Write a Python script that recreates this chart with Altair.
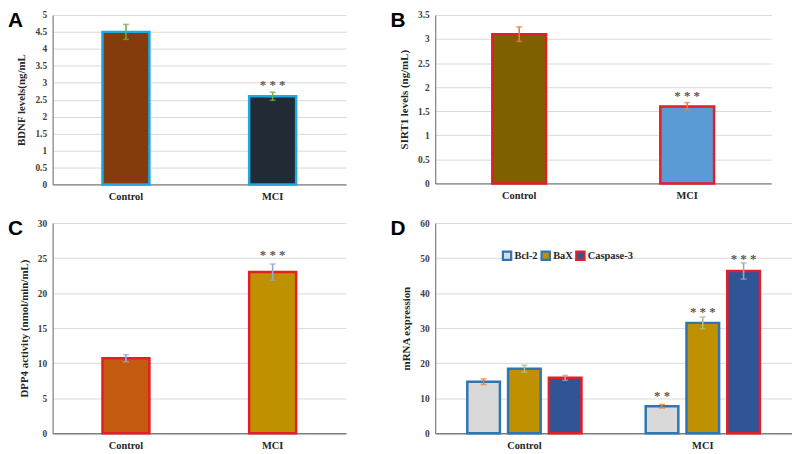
import altair as alt
import pandas as pd

# ---------------- data ----------------
groups = ["Control", "MCI"]

bdnf = [4.5, 2.6]
bdnf_err = [0.22, 0.12]
bdnf_fill = ["#843C0C", "#222A35"]
bdnf_stars = ["", "* * *"]
bdnf_star_y = [None, 2.92]

sirt1 = [3.1, 1.6]
sirt1_err = [0.15, 0.08]
sirt1_fill = ["#7F6000", "#5B9BD5"]
sirt1_stars = ["", "* * *"]
sirt1_star_y = [None, 1.82]

dpp4 = [10.7, 23.0]
dpp4_err = [0.5, 1.15]
dpp4_fill = ["#C55A11", "#BF9000"]
dpp4_stars = ["", "* * *"]
dpp4_star_y = [None, 25.5]

genes = ["Bcl-2", "BaX", "Caspase-3"]
gene_fill = ["#D9D9D9", "#BF9000", "#2F5597"]
gene_stroke = ["#2E75B6", "#2E75B6", "#E41E26"]
gene_err_color = ["#ED7D31", "#A9C08E", "#A6A6A6"]
mrna_control = [14.7, 18.4, 15.8]
mrna_control_err = [0.8, 1.0, 0.7]
mrna_mci = [7.7, 31.5, 46.3]
mrna_mci_err = [0.5, 1.7, 2.3]
mrna_stars_mci = ["* *", "* * *", "* * *"]
mrna_star_y_mci = [10.6, 34.6, 49.7]

SERIF = "Liberation Serif"
LABEL_COLOR = "#404040"
TITLE_COLOR = "#262626"
STAR_COLOR = "#595959"


def y_axis(title, ticks, title_pad):
    return alt.Axis(
        title=title, values=ticks, format=".3~r", grid=True, gridColor="#D9D9D9", gridWidth=1,
        domain=True, domainColor="#7F7F7F", domainWidth=1.2, ticks=False,
        labelFont=SERIF, labelFontWeight="bold", labelFontSize=9.5, labelColor=LABEL_COLOR,
        labelPadding=6, titleFont=SERIF, titleFontWeight="bold", titleFontSize=11,
        titleColor=TITLE_COLOR, titlePadding=title_pad,
    )


def x_axis():
    return alt.Axis(
        title=None, labelAngle=0, ticks=False, domain=True, domainColor="#7F7F7F",
        domainWidth=1.4, labelFont=SERIF, labelFontWeight="bold", labelFontSize=10.5,
        labelColor="#262626", labelPadding=7, grid=False,
    )


def letter_layer(letter):
    return alt.Chart(pd.DataFrame({"t": [letter]})).mark_text(
        align="left", baseline="top", font="Liberation Sans", fontWeight="bold",
        fontSize=21, color="#000000",
    ).encode(text="t:N", x=alt.value(-45), y=alt.value(-5))


def simple_panel(values, errs, fills, stroke, errcolor, stars, star_y, ytitle, ymax,
                 ystep, letter, w, h, title_pad):
    df = pd.DataFrame({
        "group": groups, "value": values,
        "lo": [v - e for v, e in zip(values, errs)],
        "hi": [v + e for v, e in zip(values, errs)],
        "fill": fills, "star": stars, "sy": star_y,
    })
    n = int(round(ymax / ystep))
    ticks = [round(i * ystep, 2) for i in range(n + 1)]
    yscale = alt.Scale(domain=[0, ymax], nice=False)
    yax = y_axis(ytitle, ticks, title_pad)
    X = alt.X("group:N", sort=groups, axis=x_axis(),
              scale=alt.Scale(paddingInner=0.68, paddingOuter=0.34))
    base = alt.Chart(df)
    bars = base.mark_bar(stroke=stroke, strokeWidth=2.5).encode(
        x=X, y=alt.Y("value:Q", scale=yscale, axis=yax),
        fill=alt.Fill("fill:N", scale=None),
    )
    rule = base.mark_rule(color=errcolor, strokeWidth=1.6).encode(
        x=X, y=alt.Y("lo:Q", scale=yscale, axis=yax), y2="hi:Q")
    cap_lo = base.mark_tick(color=errcolor, size=6, thickness=1.6, orient="horizontal").encode(
        x=X, y=alt.Y("lo:Q", scale=yscale, axis=yax))
    cap_hi = base.mark_tick(color=errcolor, size=6, thickness=1.6, orient="horizontal").encode(
        x=X, y=alt.Y("hi:Q", scale=yscale, axis=yax))
    star = base.transform_filter("datum.star != ''").mark_text(
        font=SERIF, fontSize=13, fontWeight="bold", color=STAR_COLOR, baseline="middle",
    ).encode(x=X, y=alt.Y("sy:Q", scale=yscale, axis=yax), text="star:N")
    return alt.layer(bars, rule, cap_lo, cap_hi, star, letter_layer(letter)).properties(
        width=w, height=h)


panel_a = simple_panel(bdnf, bdnf_err, bdnf_fill, "#1EA8E0", "#70AD47", bdnf_stars,
                       bdnf_star_y, "BDNF levels(ng/mL", 5, 0.5, "A", 296, 171, 8)
panel_b = simple_panel(sirt1, sirt1_err, sirt1_fill, "#E41E26", "#ED7D31", sirt1_stars,
                       sirt1_star_y, "SIRT1 levels (ng/mL)", 3.5, 0.5, "B", 339, 170, 8)
panel_c = simple_panel(dpp4, dpp4_err, dpp4_fill, "#E41E26", "#8FAADC", dpp4_stars,
                       dpp4_star_y, "DPP4 activity (nmol/min/mL)", 30, 5, "C", 296, 212, 8)

# ---------------- panel D ----------------
rows = []
for g, vals, errs in [("Control", mrna_control, mrna_control_err), ("MCI", mrna_mci, mrna_mci_err)]:
    for i, gene in enumerate(genes):
        rows.append({
            "group": g, "gene": gene, "value": vals[i],
            "lo": vals[i] - errs[i], "hi": vals[i] + errs[i],
            "ecolor": gene_err_color[i],
            "star": mrna_stars_mci[i] if g == "MCI" else "",
            "sy": mrna_star_y_mci[i] if g == "MCI" else None,
        })
df_d = pd.DataFrame(rows)
yscale_d = alt.Scale(domain=[0, 60], nice=False)
yax_d = y_axis("mRNA expression", list(range(0, 61, 10)), 8)
Xd = alt.X("group:N", sort=groups, axis=x_axis(),
           scale=alt.Scale(paddingInner=0.36, paddingOuter=0.18))
XO = alt.XOffset("gene:N", sort=genes, scale=alt.Scale(paddingInner=0.2))
leg = dict(title=None, orient="none", legendX=453, legendY=237, direction="horizontal",
           symbolType="square", symbolSize=70, symbolStrokeWidth=2.2,
           labelFont=SERIF, labelFontWeight="bold", labelFontSize=10.5, labelColor="#262626",
           columnPadding=-2, labelOffset=2)
base_d = alt.Chart(df_d)
bars_d = base_d.mark_bar(strokeWidth=2.5).encode(
    x=Xd, xOffset=XO, y=alt.Y("value:Q", scale=yscale_d, axis=yax_d),
    fill=alt.Fill("gene:N", sort=genes, scale=alt.Scale(domain=genes, range=gene_fill),
                  legend=alt.Legend(**leg)),
    stroke=alt.Stroke("gene:N", sort=genes, scale=alt.Scale(domain=genes, range=gene_stroke),
                      legend=alt.Legend(**leg)),
)
rule_d = base_d.mark_rule(strokeWidth=1.6).encode(
    x=Xd, xOffset=XO, y=alt.Y("lo:Q", scale=yscale_d, axis=yax_d), y2="hi:Q",
    color=alt.Color("ecolor:N", scale=None))
caplo_d = base_d.mark_tick(size=6, thickness=1.6, orient="horizontal").encode(
    x=Xd, xOffset=XO, y=alt.Y("lo:Q", scale=yscale_d, axis=yax_d),
    color=alt.Color("ecolor:N", scale=None))
caphi_d = base_d.mark_tick(size=6, thickness=1.6, orient="horizontal").encode(
    x=Xd, xOffset=XO, y=alt.Y("hi:Q", scale=yscale_d, axis=yax_d),
    color=alt.Color("ecolor:N", scale=None))
star_d = base_d.transform_filter("datum.star != ''").mark_text(
    font=SERIF, fontSize=13, fontWeight="bold", color=STAR_COLOR, baseline="middle",
).encode(x=Xd, xOffset=XO, y=alt.Y("sy:Q", scale=yscale_d, axis=yax_d), text="star:N")
panel_d = alt.layer(bars_d, rule_d, caplo_d, caphi_d, star_d, letter_layer("D")).properties(
    width=360, height=212)

chart = alt.concat(
    panel_a, panel_b, panel_c, panel_d, columns=2,
    spacing={"row": 39, "column": 90}, bounds="flush", align="none",
).properties(
    padding=0, background="white",
).configure_view(stroke=None)

chart.save("out.html", embed_options={"renderer": "svg", "actions": False})
